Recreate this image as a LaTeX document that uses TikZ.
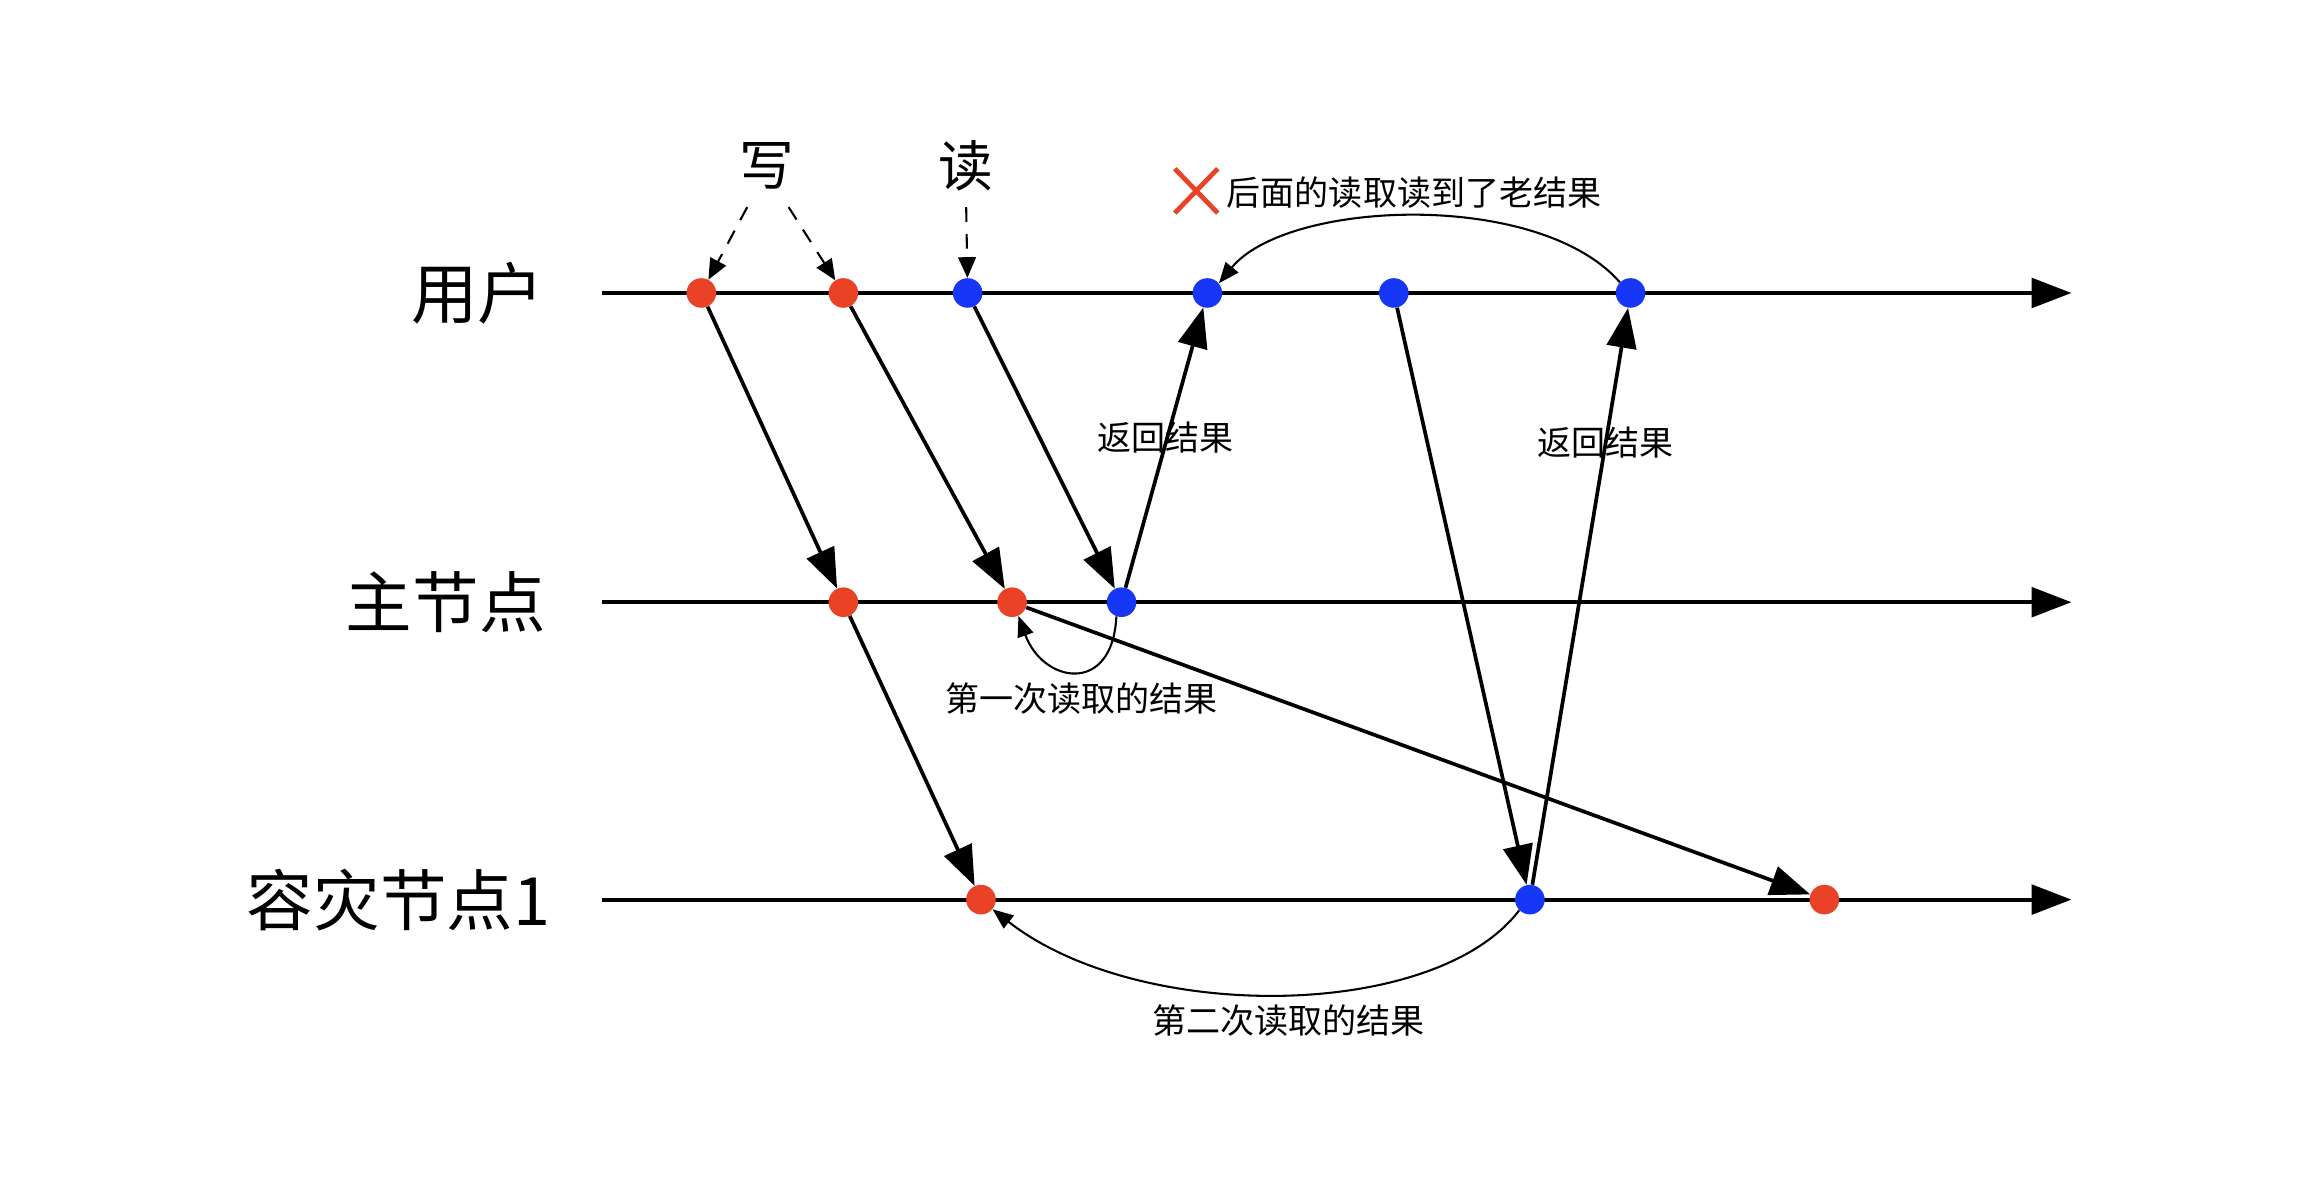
\documentclass[tikz,border=0pt]{standalone}
\usepackage{fontspec}
\setmainfont{Noto Sans CJK SC}
\usetikzlibrary{arrows.meta}
\definecolor{dotred}{RGB}{233,66,39}
\definecolor{dotblue}{RGB}{22,56,246}
\tikzset{
  timeline/.style={line width=2.8pt,-{Triangle[length=27pt,width=20pt]}},
  dotbase/.style={circle,inner sep=0pt,minimum size=20pt},
  reddot/.style={dotbase,fill=dotred},
  bluedot/.style={dotbase,fill=dotblue},
  msg/.style={line width=2.5pt,-{Triangle[length=27pt,width=20pt]}},
  thinarc/.style={line width=1.4pt,-{Triangle[length=14pt,width=11pt]}},
  dasharrow/.style={line width=1.4pt,dash pattern=on 10pt off 8pt,-{Triangle[length=14pt,width=12pt]}},
  biglabel/.style={font=\fontsize{45}{45}\selectfont,anchor=east,inner sep=0pt},
  oplabel/.style={font=\fontsize{37}{37}\selectfont,inner sep=0pt},
  smalllabel/.style={font=\fontsize{23}{23}\selectfont,inner sep=0pt},
}
\begin{document}
\begin{tikzpicture}[x=1pt,y=1pt]
\useasboundingbox[fill=white] (0,0) rectangle (1568,-796);
% timelines
\coordinate (uS) at (407,-198); \coordinate (uE) at (1400,-198);
\coordinate (mS) at (407,-407); \coordinate (mE) at (1400,-407);
\coordinate (bS) at (407,-608); \coordinate (bE) at (1400,-608);
\draw[timeline] (uS) -- (uE);
\draw[timeline] (mS) -- (mE);
\draw[timeline] (bS) -- (bE);
% row labels
\node[biglabel] (lu) at (368,-198) {用户};
\node[biglabel] (lm) at (369,-407) {主节点};
\node[biglabel] (lb) at (372,-608) {容灾节点1};
% dots
\node[reddot] (U1) at (474,-198) {};
\node[reddot] (U2) at (570,-198) {};
\node[bluedot] (U3) at (654,-198) {};
\node[bluedot] (U4) at (816,-198) {};
\node[bluedot] (U5) at (942,-198) {};
\node[bluedot] (U6) at (1102,-198) {};
\node[reddot] (M1) at (570,-407) {};
\node[reddot] (M2) at (684,-407) {};
\node[bluedot] (M3) at (758,-407) {};
\node[reddot] (B1) at (663,-608) {};
\node[bluedot] (B2) at (1034,-608) {};
\node[reddot] (B3) at (1233,-608) {};
% messages
\draw[msg] (U1) -- (M1);
\draw[msg] (U2) -- (M2);
\draw[msg] (U3) -- (M3);
\draw[msg] (M3) -- (U4);
\draw[msg] (M1) -- (B1);
\draw[msg] (M2) -- (B3);
\draw[msg] (U5) -- (B2);
\draw[msg] (B2) -- (U6);
% write/read labels
\node[oplabel] (W) at (518,-112) {写};
\node[oplabel] (R) at (653,-112) {读};
\coordinate (w1) at (505,-140);
\coordinate (w2) at (533,-140);
\coordinate (r1) at (653,-140);
\draw[dasharrow] (w1) -- (U1);
\draw[dasharrow] (w2) -- (U2);
\draw[dasharrow] (r1) -- (U3);
% curved result arrows
\draw[thinarc] (U6.135) .. controls (1040,-128) and (870,-135) .. (U4.40);
\draw[thinarc] (M3.250) .. controls (752,-470) and (705,-462) .. (M2.295);
\draw[thinarc] (B2.225) .. controls (970,-690) and (770,-692) .. (B1.320);
% labels
\node[smalllabel] (t1) at (788,-296) {返回结果};
\node[smalllabel] (t2) at (1085,-299) {返回结果};
\node[smalllabel] (t3) at (731,-472) {第一次读取的结果};
\node[smalllabel] (t4) at (871,-690) {第二次读取的结果};
\node[smalllabel,anchor=west] (t5) at (829,-130) {后面的读取读到了老结果};
\coordinate (xa) at (794,-114); \coordinate (xb) at (823,-144);
\coordinate (xc) at (794,-144); \coordinate (xd) at (823,-114);
\draw[dotred,line width=3.2pt] (xa) -- (xb) (xc) -- (xd);
\end{tikzpicture}
\end{document}
